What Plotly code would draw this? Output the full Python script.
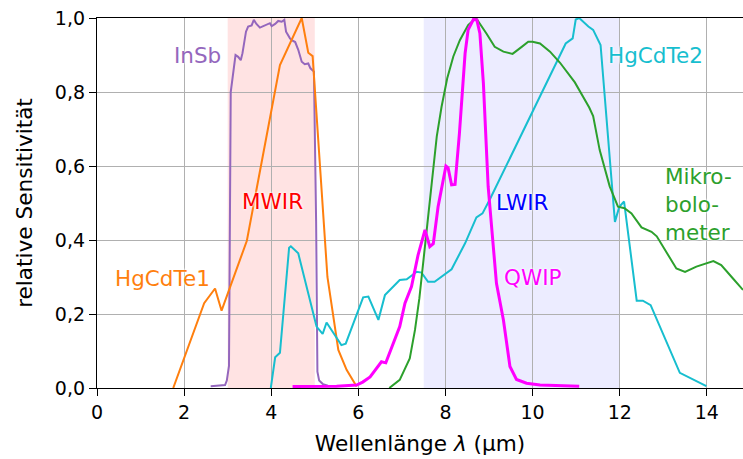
import plotly.graph_objects as go

# Spectral sensitivity curves of IR detector types (wavelength in µm, relative sensitivity)
insb_x = [2.61, 2.94, 2.98, 3.03, 3.07, 3.18, 3.24, 3.30, 3.34, 3.42, 3.47, 3.55, 3.60, 3.66, 3.74,
          3.82, 3.90, 3.97, 4.01, 4.09, 4.16, 4.24, 4.30, 4.34, 4.43, 4.47, 4.55, 4.62, 4.70, 4.77,
          4.85, 4.90, 4.98, 5.03, 5.06, 5.10, 5.19, 5.30, 5.50]
insb_y = [0.005, 0.008, 0.02, 0.06, 0.80, 0.90, 0.895, 0.886, 0.905, 0.963, 0.977, 0.98, 0.995, 0.984, 0.974,
          0.978, 0.984, 0.986, 0.978, 0.984, 0.992, 0.99, 0.995, 0.963, 0.945, 0.94, 0.935, 0.914, 0.882, 0.875,
          0.877, 0.864, 0.855, 0.45, 0.044, 0.02, 0.01, 0.006, 0.005]

hgcdte1_x = [1.75, 2.46, 2.71, 2.86, 3.44, 4.20, 4.70, 4.85, 4.95, 5.14, 5.29, 5.54, 5.73, 5.96]
hgcdte1_y = [0.0, 0.229, 0.269, 0.209, 0.398, 0.873, 1.0, 0.906, 0.897, 0.562, 0.30, 0.103, 0.049, 0.004]

hgcdte2_x = [3.99, 4.09, 4.20, 4.41, 4.45, 4.62, 5.04, 5.18, 5.27, 5.61, 5.71, 6.11, 6.23, 6.46, 6.61,
             6.95, 7.11, 7.34, 7.45, 7.60, 7.75, 8.14, 8.45, 8.71, 8.85, 9.02, 10.76, 10.92, 10.99, 11.07,
             11.28, 11.39, 11.56, 11.85, 11.89, 11.99, 12.10, 12.39, 12.53, 12.71, 13.38, 13.99]
hgcdte2_y = [0.0, 0.083, 0.095, 0.379, 0.383, 0.364, 0.166, 0.146, 0.177, 0.116, 0.12, 0.245, 0.247, 0.184, 0.251,
             0.292, 0.294, 0.314, 0.312, 0.287, 0.287, 0.321, 0.391, 0.461, 0.472, 0.51, 0.931, 0.945, 0.996, 1.0,
             0.977, 0.968, 0.927, 0.508, 0.449, 0.49, 0.504, 0.236, 0.236, 0.224, 0.041, 0.005]

qwip_x = [4.49, 5.0, 5.5, 5.96, 6.10, 6.27, 6.53, 6.63, 6.84, 6.95, 7.07, 7.22, 7.37, 7.53, 7.64, 7.72,
          7.83, 7.95, 8.01, 8.06, 8.14, 8.22, 8.32, 8.45, 8.52, 8.64, 8.72, 8.79, 8.87, 8.98, 9.10, 9.17,
          9.33, 9.48, 9.63, 9.86, 10.17, 10.6, 11.07]
qwip_y = [0.004, 0.004, 0.005, 0.008, 0.016, 0.03, 0.071, 0.068, 0.13, 0.166, 0.229, 0.274, 0.359, 0.427, 0.382, 0.39,
          0.49, 0.562, 0.60, 0.595, 0.549, 0.55, 0.688, 0.904, 0.968, 0.996, 0.995, 0.958, 0.824, 0.544, 0.382, 0.283,
          0.184, 0.058, 0.023, 0.013, 0.008, 0.006, 0.005]

bolo_x = [6.71, 6.95, 7.18, 7.30, 7.40, 7.53, 7.64, 7.80, 7.91, 8.04, 8.18, 8.33, 8.52, 8.70, 8.94, 9.13,
          9.33, 9.54, 9.75, 9.90, 10.0, 10.17, 10.40, 10.63, 10.97, 11.30, 11.39, 11.54, 11.77, 11.96, 12.11,
          12.27, 12.50, 12.73, 12.85, 13.30, 13.50, 13.76, 14.15, 14.33, 14.60, 14.83]
bolo_y = [0.0, 0.022, 0.08, 0.157, 0.242, 0.382, 0.50, 0.68, 0.76, 0.837, 0.896, 0.94, 0.981, 1.0, 0.958, 0.922,
          0.909, 0.903, 0.922, 0.936, 0.936, 0.931, 0.909, 0.879, 0.826, 0.758, 0.735, 0.643, 0.545, 0.49, 0.486,
          0.472, 0.434, 0.422, 0.41, 0.323, 0.314, 0.328, 0.343, 0.332, 0.296, 0.265]

# Atmospheric windows
mwir_band = [3.0, 5.0]
lwir_band = [7.5, 12.0]

x_ticks = [0, 2, 4, 6, 8, 10, 12, 14]
y_ticks = [0.0, 0.2, 0.4, 0.6, 0.8, 1.0]

FONT = "DejaVu Sans"
TICK_FS = 19
TITLE_FS = 21.6
LABEL_FS = 21.5

series = [
    ("InSb", insb_x, insb_y, "#9467bd", 2),
    ("HgCdTe1", hgcdte1_x, hgcdte1_y, "#ff7f0e", 2),
    ("HgCdTe2", hgcdte2_x, hgcdte2_y, "#17becf", 2),
    ("Mikrobolometer", bolo_x, bolo_y, "#2ca02c", 2),
    ("QWIP", qwip_x, qwip_y, "#ff00ff", 3),
]

fig = go.Figure()
for name, xs, ys, color, w in series:
    fig.add_trace(go.Scatter(x=xs, y=ys, mode="lines", name=name,
                             line=dict(color=color, width=w), showlegend=False))

fig.add_vrect(x0=mwir_band[0], x1=mwir_band[1], fillcolor="rgba(255,0,0,0.11)",
              line_width=0, layer="below")
fig.add_vrect(x0=lwir_band[0], x1=lwir_band[1], fillcolor="rgba(0,0,255,0.075)",
              line_width=0, layer="below")

halo = "0px 0px 3px white, 0px 0px 3px white"
labels = [
    ("InSb", 2.30, 0.90, "#9467bd"),
    ("HgCdTe1", 1.50, 0.296, "#ff7f0e"),
    ("MWIR", 4.03, 0.504, "#ff0000"),
    ("LWIR", 9.77, 0.502, "#0000ff"),
    ("QWIP", 10.02, 0.30, "#ff00ff"),
    ("HgCdTe2", 12.81, 0.90, "#17becf"),
]
for text, x, y, color in labels:
    fig.add_annotation(x=x, y=y, text=text, showarrow=False, xanchor="center", yanchor="middle",
                       font=dict(family=FONT, size=LABEL_FS, color=color, shadow=halo))
fig.add_annotation(x=13.0, y=0.495, text="Mikro-<br>bolo-<br>meter", showarrow=False,
                   xanchor="left", yanchor="middle", align="left",
                   font=dict(family=FONT, size=LABEL_FS, color="#2ca02c", shadow=halo))

fig.update_layout(
    width=743, height=459,
    margin=dict(l=97, r=0, t=18, b=71),
    paper_bgcolor="white", plot_bgcolor="white",
    separators=",.",
    font=dict(family=FONT, size=TICK_FS, color="black"),
)
fig.update_xaxes(
    range=[0, 14.83], tickvals=x_ticks, ticks="outside", ticklen=7, tickwidth=1.3, tickcolor="black",
    showline=True, linecolor="black", linewidth=1.3, mirror=True,
    showgrid=True, gridcolor="#b0b0b0", gridwidth=1.3, zeroline=False,
    title=dict(text="Wellenlänge <i>λ</i> (µm)", standoff=13,
               font=dict(family=FONT, size=TITLE_FS, color="black")),
)
fig.update_yaxes(
    range=[0, 1.0], tickvals=y_ticks, tickformat=".1f", ticks="outside", ticklen=7, tickwidth=1.3,
    tickcolor="black", showline=True, linecolor="black", linewidth=1.3,
    showgrid=True, gridcolor="#b0b0b0", gridwidth=1.3, zeroline=False,
    title=dict(text="relative Sensitivität", standoff=16,
               font=dict(family=FONT, size=TITLE_FS, color="black")),
)

fig.write_html("out.html")
